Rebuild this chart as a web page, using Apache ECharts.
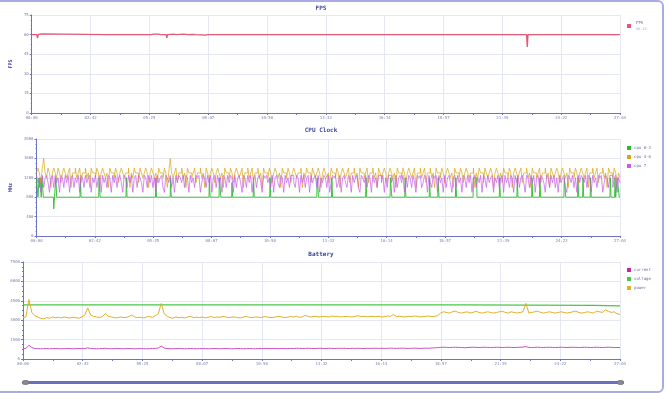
<!DOCTYPE html>
<html><head><meta charset="utf-8">
<script src="https://cdn.jsdelivr.net/npm/echarts@6/dist/echarts.min.js"></script>
<style>
html,body{margin:0;padding:0;background:#fff;overflow:hidden}
#c{position:absolute;left:0;top:0;width:670px;height:393px}
#frame{position:absolute;left:-8px;top:0;width:672px;height:393px;box-sizing:border-box;border:2px solid #a9ace0;border-radius:6px;pointer-events:none}
</style></head>
<body><div id="c"></div><div id="frame"></div>
<script>
// ---- data ----
const xMax = 1624;          // seconds (27:04)
const xTickStep = 162.4;    // label spacing
const cpuStep = 4;          // seconds between CPU samples
const batStep = 8;          // seconds between battery samples
const fpsLabelValue = '60.16';

const fpsData = [[0,60],[14,60],[16,57.4],[18,60],[26,60.5],[28,60],[207,60],[209,58.5],[211,60],[330,60],[336,60.4],[340,60],[350,60.3],[356,60],[371,60],[373,57.6],[375,60],[392,60.3],[398,60],[420,60.4],[430,60],[445,60.2],[452,60],[480,59.6],[486,60],[760,60],[762,59.5],[764,60],[1148,60],[1150,59.5],[1152,60],[1288,60],[1290,59.6],[1292,60],[1366,60],[1368,50.5],[1370,60],[1376,60],[1378,59.4],[1380,60],[1456,60],[1458,59.5],[1460,60],[1624,60]];

const cpu03 = [[0,1200],[3,1200],[4,800],[6,800],[7,1200],[9,1000],[11,1200],[13,800],[15,1200],[18,1200],[19,800],[47,800],[48,560],[50,800],[53,800],[54,1200],[56,800],[121,800],[122,1200],[124,800],[173,800],[174,1200],[176,1200],[177,800],[249,800],[250,1200],[252,800],[331,800],[332,1200],[334,800],[372,800],[373,1200],[375,800],[480,800],[481,1200],[483,800],[508,800],[509,1200],[512,1200],[513,800],[543,800],[544,1100],[546,800],[603,800],[604,1200],[606,800],[649,800],[650,1200],[652,800],[780,800],[781,1200],[784,1200],[785,800],[821,800],[822,1200],[824,800],[916,800],[917,1200],[919,800],[984,800],[985,1200],[988,1200],[989,800],[1025,800],[1026,1200],[1028,800],[1093,800],[1094,1200],[1096,800],[1117,800],[1118,1200],[1120,800],[1166,800],[1167,1200],[1169,800],[1215,800],[1216,1200],[1225,1200],[1226,800],[1288,800],[1289,1200],[1291,800],[1337,800],[1338,1200],[1340,800],[1378,800],[1379,1200],[1381,800],[1400,800],[1401,1200],[1403,800],[1468,800],[1469,1200],[1472,1200],[1473,800],[1506,800],[1507,1200],[1509,800],[1520,800],[1521,1200],[1523,800],[1541,800],[1542,1200],[1544,800],[1596,800],[1597,1200],[1599,800],[1609,800],[1610,1200],[1612,800],[1615,800],[1616,1200],[1620,1200],[1622,800],[1624,800]];

const cpu46 = [1300,1400,1300,1100,1400,1600,1300,1200,1400,1300,1000,1300,1400,1300,1200,1400,1300,1100,1300,1400,
1300,1200,1300,1400,1000,1300,1300,1400,1200,1300,1400,1100,1300,1300,1400,1200,1300,1000,1400,1300,
1300,1200,1400,1300,1100,1300,1400,1300,1200,1300,1000,1400,1300,1300,1200,1400,1300,1100,1300,1400,
1300,1200,1300,1300,1400,1000,1300,1200,1400,1300,1300,1100,1400,1300,1200,1300,1400,1300,1000,1300,
1400,1300,1200,1300,1100,1400,1300,1300,1200,1400,1300,1000,1300,1600,1300,1200,1300,1400,1100,1300,
1300,1400,1200,1300,1000,1400,1300,1300,1200,1300,1400,1100,1300,1300,1400,1200,1300,1000,1400,1300,
1200,1300,1400,1300,1100,1300,1400,1300,1200,1300,1000,1400,1300,1300,1200,1400,1300,1100,1300,1400,
1300,1200,1300,1400,1000,1300,1300,1400,1200,1300,1400,1100,1300,1300,1400,1200,1300,1000,1400,1300,
1300,1200,1400,1300,1100,1300,1400,1300,1200,1300,1000,1400,1300,1300,1200,1400,1300,1100,1300,1400,
1300,1200,1300,1300,1400,1000,1300,1200,1400,1300,1300,1100,1400,1300,1200,1300,1400,1300,1000,1300,
1400,1300,1200,1300,1100,1400,1300,1300,1200,1400,1300,1000,1300,1400,1300,1200,1300,1400,1100,1300,
1300,1400,1200,1300,1000,1400,1300,1300,1200,1300,1400,1100,1300,1300,1400,1200,1300,1000,1400,1300,
1200,1300,1400,1300,1100,1300,1400,1300,1200,1300,1000,1400,1300,1300,1200,1400,1300,1100,1300,1400,
1300,1200,1300,1400,1000,1300,1300,1400,1200,1300,1400,1100,1300,1300,1400,1200,1300,1000,1400,1300,
1300,1200,1400,1300,1100,1300,1400,1300,1200,1300,1000,1400,1300,1300,1200,1400,1300,1100,1300,1400,
1300,1200,1300,1300,1400,1000,1300,1200,1400,1300,1300,1100,1400,1300,1200,1300,1400,1300,1000,1300,
1400,1300,1200,1300,1100,1400,1300,1300,1200,1400,1300,1000,1300,1400,1300,1200,1300,1400,1100,1300,
1300,1400,1200,1300,1000,1400,1300,1300,1200,1300,1400,1100,1300,1300,1400,1200,1300,1000,1400,1300,
1200,1300,1400,1300,1100,1300,1400,1300,1200,1300,1000,1400,1300,1300,1200,1400,1300,1100,1300,1400,
1300,1200,1300,1400,1000,1300,1300,1400,1200,1300,1400,1100,1300,1300,1400,1200,1300,1000,1400,1300,
1300,1200,1400,1300,1100,1300,1200];

const cpu7 = [1250,1100,1200,900,1250,1000,1200,1250,1100,900,1200,1250,1000,1250,1100,1200,900,1250,1200,1000,
1250,1100,1250,900,1200,1250,1000,1200,1100,1250,900,1250,1200,1000,1250,1100,1200,1250,900,1200,
1100,1250,1000,1200,1250,900,1250,1100,1200,1000,1250,1200,900,1250,1100,1250,1000,1200,1250,1100,
900,1250,1200,1000,1250,1100,1250,900,1200,1250,1000,1250,1200,1100,900,1250,1200,1000,1250,1100,
1250,1000,1200,900,1250,1100,1200,1250,1000,900,1250,1200,1100,1250,1000,1200,900,1250,1100,1250,
1200,1100,1250,1000,1250,1200,900,1250,1100,1200,1000,1250,1200,1250,900,1100,1250,1200,1000,1250,
1100,1250,900,1200,1250,1000,1250,1100,1200,900,1250,1200,1000,1250,1100,1250,1200,900,1250,1000,
1200,1250,1100,900,1250,1200,1000,1250,1100,1250,900,1200,1250,1000,1200,1250,1100,900,1250,1200,
1250,1100,1200,1000,1250,900,1200,1250,1100,1000,1250,1200,900,1250,1100,1200,1000,1250,1250,1100,
1000,1250,1200,900,1250,1100,1250,1000,1200,1250,900,1250,1100,1200,1250,1000,1250,900,1200,1100,
1250,1200,1000,1250,900,1100,1250,1200,1250,1000,1100,1250,900,1200,1250,1100,1000,1250,1200,900,
1250,1100,1200,1250,1000,900,1250,1200,1100,1250,1000,1250,1200,900,1250,1100,1200,1000,1250,1250,
1100,1250,900,1200,1000,1250,1250,1100,1200,900,1250,1000,1200,1250,1100,1250,900,1200,1000,1250,
1200,1000,1250,1100,900,1250,1200,1250,1000,1100,1250,1200,900,1250,1100,1000,1250,1200,1250,900,
1250,1100,1200,900,1250,1000,1200,1250,1100,900,1200,1250,1000,1250,1100,1200,900,1250,1200,1000,
1250,1100,1250,900,1200,1250,1000,1200,1100,1250,900,1250,1200,1000,1250,1100,1200,1250,900,1200,
1100,1250,1000,1200,1250,900,1250,1100,1200,1000,1250,1200,900,1250,1100,1250,1000,1200,1250,1100,
900,1250,1200,1000,1250,1100,1250,900,1200,1250,1000,1250,1200,1100,900,1250,1200,1000,1250,1100,
1250,1000,1200,900,1250,1100,1200,1250,1000,900,1250,1200,1100,1250,1000,1200,900,1250,1100,1250,
1200,1100,1250,1000,1250,1200,900,1250,1100,1200,1000,1250,1200,1250,900,1100,1250,1200,1000,1250,
1250,1000,1200,1250,900,1200,1100];

const batCurrent = [800,820,1060,880,820,800,790,800,810,790,800,810,800,790,800,810,800,790,800,810,
800,810,860,820,800,790,800,810,830,800,790,800,810,800,790,800,810,800,790,800,
810,800,790,800,810,820,850,1000,850,810,800,790,800,810,800,790,800,810,800,790,
800,810,800,790,800,810,800,790,800,810,800,790,800,810,800,790,800,810,800,790,
810,800,820,810,800,820,810,800,820,810,800,820,810,830,820,810,820,830,820,810,
820,830,820,810,830,820,810,830,820,830,820,810,830,820,830,820,810,830,820,830,
830,820,830,820,830,840,830,820,830,840,830,820,830,840,830,820,830,840,830,850,
860,880,900,910,900,890,900,910,900,890,870,880,900,910,900,890,900,910,900,890,
900,910,900,890,900,910,900,890,900,910,920,960,900,890,900,910,900,890,900,910,
900,890,900,910,900,890,900,910,900,890,900,910,900,890,900,910,900,890,900,910,
900,880,890,880];

const batVoltage = [[0,4190],[1195,4190],[1197,4140],[1554,4140],[1556,4100],[1624,4100]];

const batPower = [3200,3250,4600,3600,3350,3250,3150,3100,3200,3150,3250,3200,3220,3180,3250,3200,3170,3230,3200,3150,
3250,3400,3950,3400,3300,3250,3200,3280,3500,3300,3250,3200,3180,3250,3220,3200,3280,3400,3250,3200,
3230,3180,3250,3300,3200,3350,3500,4300,3500,3300,3200,3150,3250,3200,3220,3180,3250,3300,3200,3230,
3200,3250,3180,3230,3280,3200,3250,3220,3300,3250,3200,3230,3250,3200,3180,3250,3300,3220,3200,3250,
3230,3200,3280,3250,3200,3220,3260,3300,3250,3200,3230,3280,3250,3300,3220,3260,3400,3280,3250,3300,
3270,3250,3300,3280,3250,3320,3280,3300,3250,3280,3300,3270,3250,3300,3350,3280,3300,3260,3280,3300,
3270,3300,3250,3280,3320,3300,3450,3280,3300,3270,3250,3300,3280,3320,3300,3250,3280,3300,3320,3280,
3300,3350,3550,3650,3600,3550,3650,3700,3600,3550,3600,3650,3550,3600,3700,3600,3550,3600,3650,3600,
3550,3600,3650,3700,3600,3550,3650,3600,3550,3600,3650,4300,3550,3600,3650,3700,3600,3550,3600,3650,
3600,3550,3600,3650,3600,3550,3600,3650,3700,3600,3550,3600,3650,3600,3550,3700,3650,3600,3800,3700,
3600,3650,3500,3450];

// ---- chart ----
const withTime = (arr, step) => arr.map((v, i) => [i * step, v]);
const fmt = v => { const s = Math.round(v); return String(Math.floor(s/60)).padStart(2,'0') + ':' + String(s%60).padStart(2,'0'); };

const axisColor = '#6d73c4';
const labelColor = '#7d82ad';
const splitColor = '#e6e7f4';
const titleColor = '#3d4399';
const mono = 'DejaVu Sans Mono';

const grids = [
  {left: 23, width: 597, top: 15, height: 98},
  {left: 23, width: 597, top: 139, height: 97},
  {left: 23, width: 597, top: 262, height: 97}
];

const xAxes = grids.map((g, i) => ({
  type: 'value', gridIndex: i, min: 0, max: xMax, interval: xTickStep,
  axisLine: {show: true, lineStyle: {color: axisColor, width: 1}},
  axisTick: {show: true, length: 2, lineStyle: {color: axisColor}},
  minorTick: {show: true, splitNumber: 2, length: 2, lineStyle: {color: axisColor}},
  axisLabel: {formatter: fmt, fontSize: 4, color: labelColor, margin: 3, fontFamily: mono},
  splitLine: {show: true, lineStyle: {color: splitColor}}
}));

const yCommon = {
  axisLine: {show: true, lineStyle: {color: axisColor, width: 1}},
  axisTick: {show: true, length: 2, lineStyle: {color: axisColor}},
  minorTick: {show: true, splitNumber: 4, length: 1, lineStyle: {color: axisColor}},
  axisLabel: {fontSize: 4, color: labelColor, margin: 3, fontFamily: mono, formatter: v => String(v)},
  splitLine: {show: true, lineStyle: {color: splitColor}},
  nameLocation: 'middle', nameRotate: 90, nameGap: 15,
  nameTextStyle: {fontSize: 5, color: titleColor, fontWeight: 'bold', fontFamily: mono}
};

const yAxes = [
  Object.assign({}, yCommon, {type: 'value', gridIndex: 0, min: 0, max: 75, interval: 15, name: 'FPS'}),
  Object.assign({}, yCommon, {type: 'value', gridIndex: 1, min: 0, max: 2000, interval: 400, name: 'MHz'}),
  Object.assign({}, yCommon, {type: 'value', gridIndex: 2, min: 0, max: 7500, interval: 1500, name: ''})
];

const titleStyle = {fontSize: 6, color: titleColor, fontWeight: 'bold', fontFamily: mono};
const titles = [
  {text: 'FPS', left: 321, top: 5, textAlign: 'center', padding: 0, textStyle: titleStyle},
  {text: 'CPU Clock', left: 321, top: 127, textAlign: 'center', padding: 0, textStyle: titleStyle},
  {text: 'Battery', left: 321, top: 251, textAlign: 'center', padding: 0, textStyle: titleStyle}
];

const legendCommon = {left: 627, orient: 'vertical', itemWidth: 4, itemHeight: 4, itemGap: 5, padding: 0, icon: 'rect',
  textStyle: {fontSize: 4, color: '#6a6f95', fontFamily: mono, padding: [0,0,0,-2]}};

const legends = [
  Object.assign({}, legendCommon, {top: 20, data: ['FPS'],
    formatter: n => n + '\n{s|' + fpsLabelValue + '}',
    textStyle: {fontSize: 4, color: '#6a6f95', fontFamily: mono, lineHeight: 6, rich: {s: {fontSize: 3.5, color: '#aaaacc', fontFamily: mono}}}}),
  Object.assign({}, legendCommon, {top: 146, data: ['cpu 0-3', 'cpu 4-6', 'cpu 7']}),
  Object.assign({}, legendCommon, {top: 268, data: ['current', 'voltage', 'power']})
];

const lineSeries = (name, xi, data, color, extra) => Object.assign({
  name, type: 'line', xAxisIndex: xi, yAxisIndex: xi, data, showSymbol: false,
  lineStyle: {width: 1, color}, itemStyle: {color}, animation: false, sampling: null
}, extra || {});

const option = {
  animation: false,
  title: titles,
  grid: grids,
  xAxis: xAxes,
  yAxis: yAxes,
  legend: legends,
  dataZoom: [{
    type: 'slider', xAxisIndex: [0,1,2], start: 0, end: 100,
    left: 23, right: 50, bottom: 9, height: 3,
    backgroundColor: '#dfe1f3', borderColor: 'transparent', fillerColor: '#6a70c0',
    showDetail: false, showDataShadow: false, brushSelect: false, moveHandleSize: 0,
    handleIcon: 'path://M2,0h6a2,2 0 0 1 2,2v2a2,2 0 0 1 -2,2h-6a2,2 0 0 1 -2,-2v-2a2,2 0 0 1 2,-2z',
    handleSize: '200%', handleStyle: {color: '#8a8a92', borderColor: '#777780'},
    dataBackground: {lineStyle: {opacity: 0}, areaStyle: {opacity: 0}}
  }],
  series: [
    lineSeries('FPS', 0, fpsData, '#e25a74', {lineStyle: {width: 1.3, color: '#e25a74'}}),
    lineSeries('cpu 0-3', 1, cpu03, '#2dbb2d', {lineStyle: {width: 0.9, color: '#2dbb2d'}}),
    lineSeries('cpu 4-6', 1, withTime(cpu46, cpuStep), '#dba418', {step: 'end', lineStyle: {width: 0.7, color: '#dba418'}}),
    lineSeries('cpu 7', 1, withTime(cpu7, cpuStep), '#c85ae8', {step: 'end', lineStyle: {width: 0.7, color: '#c85ae8'}}),
    lineSeries('current', 2, withTime(batCurrent, batStep), '#c94fc4', {itemStyle: {color: '#c02aa0'}}),
    lineSeries('voltage', 2, batVoltage, '#48c848', {lineStyle: {width: 1.3, color: '#48c848'}}),
    lineSeries('power', 2, withTime(batPower, batStep), '#e0b028')
  ]
};

const chart = echarts.init(document.getElementById('c'), null, {renderer: 'canvas'});
chart.setOption(option);
</script>
</body></html>
